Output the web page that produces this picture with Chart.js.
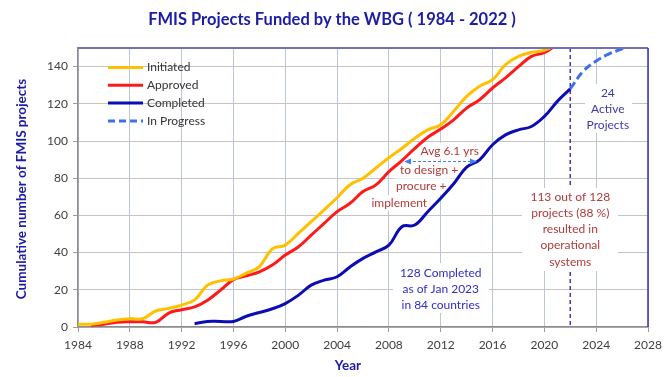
<!DOCTYPE html>
<html>
<head>
<meta charset="utf-8">
<script src="https://cdn.jsdelivr.net/npm/chart.js@4/dist/chart.umd.min.js"></script>
<style>
  html, body { margin: 0; padding: 0; background: #fff; }
  #wrap { width: 670px; height: 377px; }
</style>
</head>
<body>
<div id="wrap"><canvas id="fmisChart" width="670" height="377"></canvas></div>
<script>
// Cumulative number of FMIS projects, one value per year
const initiatedStart = 1984;
const initiated = [1.5, 1.5, 2.5, 3.8, 4.5, 4.5, 8.6, 10, 11.8, 14.6, 22.5, 24.8, 25.8, 29, 32.5, 42, 44, 50.3, 56.6, 63,
                   69.5, 76.5, 80, 85.5, 91, 96, 101.5, 106, 108.7, 116, 124, 129.4, 133, 141, 145.5, 147.7, 148.8, 152];
const approvedStart = 1985;
const approved = [0.8, 1.5, 2.5, 2.8, 2.8, 2.5, 7.5, 9.3, 10.8, 14.4, 19.8, 25.5, 27.5, 29.6, 33.3, 38.7, 43, 49.4, 55.7,
                  62, 66.5, 72.8, 76.4, 83.5, 89.5, 96, 102, 106.4, 111.4, 117.7, 122.2, 128.5, 133.9, 140, 145.5, 147.5, 152];
const completedStart = 1993;
const completed = [1.8, 3, 3, 3, 5.8, 7.8, 9.8, 12.6, 17, 22.5, 25.2, 27, 32.3, 36.9, 40.4, 44, 53.9, 54.8, 62, 69.2,
                   77, 86, 89.9, 98, 103.3, 106, 107.8, 113.2, 121.3, 128];
const inProgressStart = 2022;
const inProgress = [128, 137.5, 143, 146.8, 149.5, 151.5];

// Axis ticks
const xTickYears = [1984, 1988, 1992, 1996, 2000, 2004, 2008, 2012, 2016, 2020, 2024, 2028];
const yTickValues = [0, 20, 40, 60, 80, 100, 120, 140];
const cutoffYear = 2022;

const FONT = 'Lato, "Open Sans", sans-serif';

function toPoints(start, values) {
    return values.map((v, i) => ({ x: start + i, y: v }));
}

// Text boxes (white background hides the grid behind them)
const notes = [
    { lines: ['24', 'Active', 'Projects'], x: 2024.9, y: 126, color: '#3a3aa8', box: [585, 84, 632, 133] },
    { lines: ['113 out of 128', 'projects (88 %)', 'resulted in', 'operational', 'systems'], x: 2022, y: 69.9, color: '#b23a3a', box: [522, 188, 618, 271] },
    { lines: ['128 Completed', 'as of Jan 2023', 'in 84 countries'], x: 2012, y: 29.1, color: '#2e2ec8', box: [393, 263, 489, 313] },
    { lines: ['Avg 6.1 yrs'], x: 2012.7, y: 94.7, color: '#b23a3a' },
    { lines: ['to design +'], x: 2011.1, y: 84.1, color: '#b23a3a' },
    { lines: ['procure +'], x: 2010.5, y: 75.5, color: '#b23a3a' },
    { lines: ['implement'], x: 2008.8, y: 66.6, color: '#b23a3a' }
];

const legendItems = [
    { label: 'Initiated', color: '#ffc000', dash: [] },
    { label: 'Approved', color: '#ff1a1a', dash: [] },
    { label: 'Completed', color: '#0c0cb4', dash: [] },
    { label: 'In Progress', color: '#3f70e6', dash: [7, 4] }
];

const decorPlugin = {
    id: 'decor',
    beforeDatasetsDraw(chart) {
        const ctx = chart.ctx;
        const xs = chart.scales.x, ys = chart.scales.y;
        const area = chart.chartArea;
        ctx.save();
        // 2022 cut-off line
        const cx = xs.getPixelForValue(cutoffYear);
        ctx.strokeStyle = '#4636b0';
        ctx.lineWidth = 1.5;
        ctx.setLineDash([4, 3]);
        ctx.beginPath();
        ctx.moveTo(cx, area.top);
        ctx.lineTo(cx, area.bottom);
        ctx.stroke();
        ctx.setLineDash([]);
        // white boxes behind notes
        ctx.fillStyle = '#ffffff';
        ctx.font = '12px ' + FONT;
        notes.forEach(n => {
            if (n.box) {
                ctx.fillRect(n.box[0], n.box[1], n.box[2] - n.box[0], n.box[3] - n.box[1]);
            } else {
                const w = ctx.measureText(n.lines[0]).width;
                const px = xs.getPixelForValue(n.x), py = ys.getPixelForValue(n.y);
                ctx.fillRect(px - w / 2 - 3, py - 8, w + 6, 16);
            }
        });
        ctx.restore();
    },
    afterDatasetsDraw(chart) {
        const ctx = chart.ctx;
        const xs = chart.scales.x, ys = chart.scales.y;
        const area = chart.chartArea;
        ctx.save();
        ctx.font = '12px ' + FONT;
        ctx.textAlign = 'center';
        ctx.textBaseline = 'middle';
        notes.forEach(n => {
            const px = xs.getPixelForValue(n.x);
            const py = ys.getPixelForValue(n.y);
            ctx.fillStyle = n.color;
            n.lines.forEach((t, i) => ctx.fillText(t, px, py + i * 16.2));
        });

        // double arrow under "Avg 6.1 yrs"
        const ay = 161.5, ax1 = 404, ax2 = 477;
        ctx.strokeStyle = '#4a7ee8';
        ctx.fillStyle = '#4a7ee8';
        ctx.lineWidth = 1;
        ctx.setLineDash([3, 2]);
        ctx.beginPath();
        ctx.moveTo(ax1 + 4, ay);
        ctx.lineTo(ax2 - 4, ay);
        ctx.stroke();
        ctx.setLineDash([]);
        [[ax1, 1], [ax2, -1]].forEach(([x, d]) => {
            ctx.beginPath();
            ctx.moveTo(x, ay);
            ctx.lineTo(x + 7 * d, ay - 3);
            ctx.lineTo(x + 7 * d, ay + 3);
            ctx.closePath();
            ctx.fill();
        });

        // legend
        ctx.textAlign = 'left';
        ctx.font = '12px ' + FONT;
        legendItems.forEach((it, i) => {
            const y = 67.5 + i * 17.8;
            ctx.strokeStyle = it.color;
            ctx.lineWidth = 3;
            ctx.setLineDash(it.dash);
            ctx.beginPath();
            ctx.moveTo(108, y);
            ctx.lineTo(143, y);
            ctx.stroke();
            ctx.setLineDash([]);
            ctx.fillStyle = '#333333';
            ctx.fillText(it.label, 147, y);
        });

        // plot border: top and right
        ctx.strokeStyle = '#6f6fc4';
        ctx.lineWidth = 2;
        ctx.beginPath();
        ctx.moveTo(area.left, area.top);
        ctx.lineTo(area.right, area.top);
        ctx.stroke();
        ctx.strokeStyle = '#3232b4';
        ctx.lineWidth = 1.5;
        ctx.beginPath();
        ctx.moveTo(area.right, area.top);
        ctx.lineTo(area.right, area.bottom);
        ctx.stroke();

        // titles
        ctx.fillStyle = '#1c1ca6';
        ctx.textAlign = 'center';
        ctx.font = 'bold 16.5px ' + FONT;
        ctx.fillText('FMIS Projects Funded by the WBG ( 1984 - 2022 )', 332, 20);
        ctx.font = 'bold 13.5px ' + FONT;
        ctx.fillText('Year', 348, 366);
        ctx.translate(22, 189);
        ctx.rotate(-Math.PI / 2);
        ctx.fillText('Cumulative number of FMIS projects', 0, 0);
        ctx.restore();
    }
};

const lineStyle = { borderWidth: 3, pointRadius: 0, tension: 0.4, fill: false, clip: 0 };

const ctx = document.getElementById('fmisChart').getContext('2d');
const fmisChart = new Chart(ctx, {
    type: 'line',
    data: {
        datasets: [
            Object.assign({ label: 'Initiated', data: toPoints(initiatedStart, initiated), borderColor: '#ffc000' }, lineStyle),
            Object.assign({ label: 'Approved', data: toPoints(approvedStart, approved), borderColor: '#ff1a1a' }, lineStyle),
            Object.assign({ label: 'In Progress', data: toPoints(inProgressStart, inProgress), borderColor: '#3f70e6', borderDash: [8, 4] }, lineStyle),
            Object.assign({ label: 'Completed', data: toPoints(completedStart, completed), borderColor: '#0c0cb4' }, lineStyle)
        ]
    },
    options: {
        responsive: false,
        animation: false,
        layout: { padding: { top: 48, right: 22, left: 0, bottom: 0 } },
        plugins: { legend: { display: false }, tooltip: { enabled: false } },
        scales: {
            x: {
                type: 'linear',
                min: 1984,
                max: 2028,
                afterFit: s => { s.height = 50; },
                afterBuildTicks: s => { s.ticks = xTickYears.map(v => ({ value: v })); },
                ticks: { callback: v => String(v), color: '#404040', font: { family: FONT, size: 12 }, padding: 6, maxRotation: 0 },
                grid: { color: '#b9c6d8', tickLength: 5, tickColor: '#9a9a9a' },
                border: { color: '#8c8c8c', width: 1.5 }
            },
            y: {
                min: 0,
                max: 150,
                afterFit: s => { s.width = 78; },
                afterBuildTicks: s => { s.ticks = yTickValues.map(v => ({ value: v })); },
                ticks: { color: '#404040', font: { family: FONT, size: 12 }, padding: 5 },
                grid: { color: '#c4c4c4', tickLength: 5, tickColor: '#9a9a9a' },
                border: { color: '#8c8c8c', width: 1.5 }
            }
        }
    },
    plugins: [decorPlugin]
});
</script>
</body>
</html>
